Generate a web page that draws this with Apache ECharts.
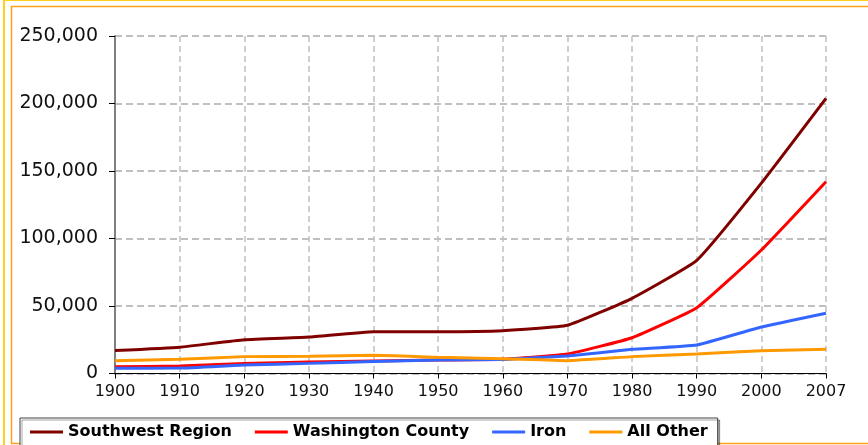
<!DOCTYPE html>
<html>
<head>
<meta charset="utf-8">
<script src="https://cdn.jsdelivr.net/npm/echarts@6/dist/echarts.min.js"></script>
<style>
  html, body { margin: 0; padding: 0; background: #fff; }
  #chart { width: 868px; height: 445px; }
</style>
</head>
<body>
<div id="chart"></div>
<script>
// x categories (census years)
const years = ['1900', '1910', '1920', '1930', '1940', '1950', '1960', '1970', '1980', '1990', '2000', '2007']

// population values
const southwestRegion = [17000, 19500, 25000, 27000, 31000, 31000, 31700, 35700, 55700, 83800, 141000, 203800]
const washingtonCounty = [5000, 5500, 7500, 8500, 9300, 10000, 10500, 14400, 26500, 48700, 91500, 142100]
const iron = [3900, 4000, 6300, 7500, 8900, 10000, 10400, 13000, 17900, 21100, 34400, 44600]
const allOther = [9500, 10500, 12500, 12700, 13500, 12000, 11000, 9500, 12500, 14400, 16900, 17900]

const seriesNames = ['Southwest Region', 'Washington County', 'Iron', 'All Other']
const seriesColors = ['#800000', '#FF0000', '#3366FF', '#FF9900']

const chart = echarts.init(document.getElementById('chart'), null, { renderer: 'canvas' })

const makeLine = (name, data, color) => ({
  name,
  type: 'line',
  data,
  smooth: 0.12,
  symbol: 'none',
  lineStyle: { width: 3, color },
  itemStyle: { color }
})

chart.setOption({
  animation: false,
  backgroundColor: '#fff',
  textStyle: { fontFamily: 'DejaVu Sans' },
  graphic: [
    {
      type: 'rect',
      shape: { x: 4, y: 0, width: 900, height: 500 },
      style: { fill: 'none', stroke: '#FFD11A', lineWidth: 2 },
      silent: true
    },
    {
      type: 'rect',
      shape: { x: 11.5, y: 6.5, width: 900, height: 437 },
      style: { fill: 'none', stroke: '#FFA21A', lineWidth: 1.5 },
      silent: true
    }
  ],
  grid: {
    left: 115,
    right: 42,
    top: 36,
    bottom: 71.5
  },
  legend: {
    left: 20,
    top: 418,
    orient: 'horizontal',
    padding: [6, 10, 12, 10],
    itemGap: 23,
    itemWidth: 33,
    itemHeight: 3,
    icon: 'rect',
    borderColor: '#404040',
    borderWidth: 1,
    shadowColor: 'rgba(0,0,0,0.35)',
    shadowOffsetX: 2,
    shadowOffsetY: 2,
    backgroundColor: '#fff',
    textStyle: {
      fontFamily: 'DejaVu Sans',
      fontWeight: 'bold',
      fontSize: 16,
      color: '#000'
    },
    data: seriesNames
  },
  xAxis: {
    type: 'category',
    data: years,
    boundaryGap: false,
    axisLine: { lineStyle: { color: '#000', width: 1 } },
    axisTick: { show: true, length: 5, lineStyle: { color: '#000' } },
    axisLabel: {
      color: '#111',
      fontSize: 16,
      margin: 10,
      fontFamily: 'DejaVu Sans'
    },
    splitLine: {
      show: true,
      lineStyle: { color: '#C0C0C0', type: [6, 4], width: 1.5 }
    }
  },
  yAxis: {
    type: 'value',
    min: 0,
    max: 250000,
    interval: 50000,
    axisLine: { show: true, lineStyle: { color: '#808080', width: 2 } },
    axisTick: { show: true, length: 6, lineStyle: { color: '#000' } },
    axisLabel: {
      color: '#111',
      fontSize: 19,
      margin: 17,
      fontFamily: 'DejaVu Sans',
      formatter: v => v.toLocaleString('en-US')
    },
    splitLine: {
      show: true,
      lineStyle: { color: '#C0C0C0', type: [7, 4], width: 2 }
    }
  },
  series: [
    makeLine(seriesNames[0], southwestRegion, seriesColors[0]),
    makeLine(seriesNames[1], washingtonCounty, seriesColors[1]),
    makeLine(seriesNames[2], iron, seriesColors[2]),
    makeLine(seriesNames[3], allOther, seriesColors[3])
  ]
})
</script>
</body>
</html>
